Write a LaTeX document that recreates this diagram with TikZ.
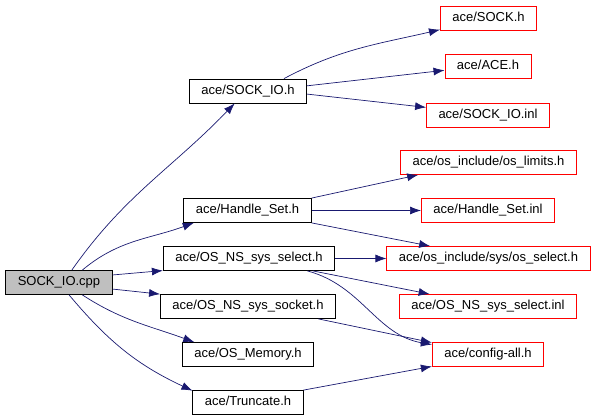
\documentclass[tikz,border=0pt]{standalone}
\usepackage{fontspec}
\setmainfont{Liberation Sans}
\usetikzlibrary{arrows.meta}
\definecolor{edgeblue}{RGB}{25,25,112}
\definecolor{rootgray}{RGB}{191,191,191}

\begin{document}
\begin{tikzpicture}[x=1pt, y=1pt, >={Latex[length=11pt,width=8pt]},
		file/.style={draw, line width=0.8pt, fill=white, inner xsep=12pt, inner ysep=0pt,
			minimum height=24pt, text height=9.5pt, text depth=2.5pt, font=\fontsize{13}{15}\selectfont},
		root/.style={file, fill=rootgray},
		extfile/.style={file, draw=red},
		dep/.style={->, draw=edgeblue, line width=0.7pt}]
		
		\useasboundingbox (0,0) rectangle (597,419);
		
		% left column
		\node [root] (cpp) at (59,136.5) {SOCK\_IO.cpp};
		
		% middle column
		\node [file] (sockio-h) at (248,328) {ace/SOCK\_IO.h};
		\node [file] (handleset-h) at (247.5,208.5) {ace/Handle\_Set.h};
		\node [file] (select-h) at (249,160.5) {ace/OS\_NS\_sys\_select.h};
		\node [file] (socket-h) at (248,112.5) {ace/OS\_NS\_sys\_socket.h};
		\node [file] (memory-h) at (248,64.5) {ace/OS\_Memory.h};
		\node [file] (truncate-h) at (248,16.5) {ace/Truncate.h};
		
		% right column
		\node [extfile] (sock-h) at (488.5,400.5) {ace/SOCK.h};
		\node [extfile] (ace-h) at (488,352.5) {ace/ACE.h};
		\node [extfile] (sockio-inl) at (488,304) {ace/SOCK\_IO.inl};
		\node [extfile] (limits-h) at (488.5,256.5) {ace/os\_include/os\_limits.h};
		\node [extfile] (handleset-inl) at (488,208.5) {ace/Handle\_Set.inl};
		\node [extfile] (osselect-h) at (488.5,160.5) {ace/os\_include/sys/os\_select.h};
		\node [extfile] (select-inl) at (488,112.5) {ace/OS\_NS\_sys\_select.inl};
		\node [extfile] (config-h) at (488,64.5) {ace/config-all.h};
		
		% SOCK_IO.cpp includes
		\draw [dep] (cpp.44) to[out=55,in=-134] (sockio-h.-137);
		\draw [dep] (cpp.28.5) to[out=40,in=-160] (handleset-h.-167);
		\draw [dep] (cpp.8) -- (select-h.-172.5);
		\draw [dep] (cpp.-7) -- (socket-h.172);
		\draw [dep] (cpp.-28) to[out=-33,in=160] (memory-h.167.4);
		\draw [dep] (cpp.-51) to[out=-50,in=155] (truncate-h.168.2);
		
		% second level
		\draw [dep] (sockio-h.19.4) to[out=28,in=-167] (sock-h.-167.2);
		\draw [dep] (sockio-h.5.8) -- (ace-h.-175.3);
		\draw [dep] (sockio-h.-3.9) -- (sockio-inl.173.5);
		\draw [dep] (handleset-h.north east) -- (limits-h.-170);
		\draw [dep] (handleset-h.east) -- (handleset-inl.west);
		\draw [dep] (handleset-h.south east) -- (osselect-h.168.3);
		\draw [dep] (select-h.east) -- (osselect-h.west);
		\draw [dep] (select-h.-11) -- (select-inl.168.2);
		\draw [dep] (select-h.-12) to[out=-15,in=170] (config-h.170.4);
		\draw [dep] (socket-h.-10.9) -- (config-h.168.4);
		\draw [dep] (truncate-h.north east) -- (config-h.-168.4);
		
\end{tikzpicture}
\end{document}
